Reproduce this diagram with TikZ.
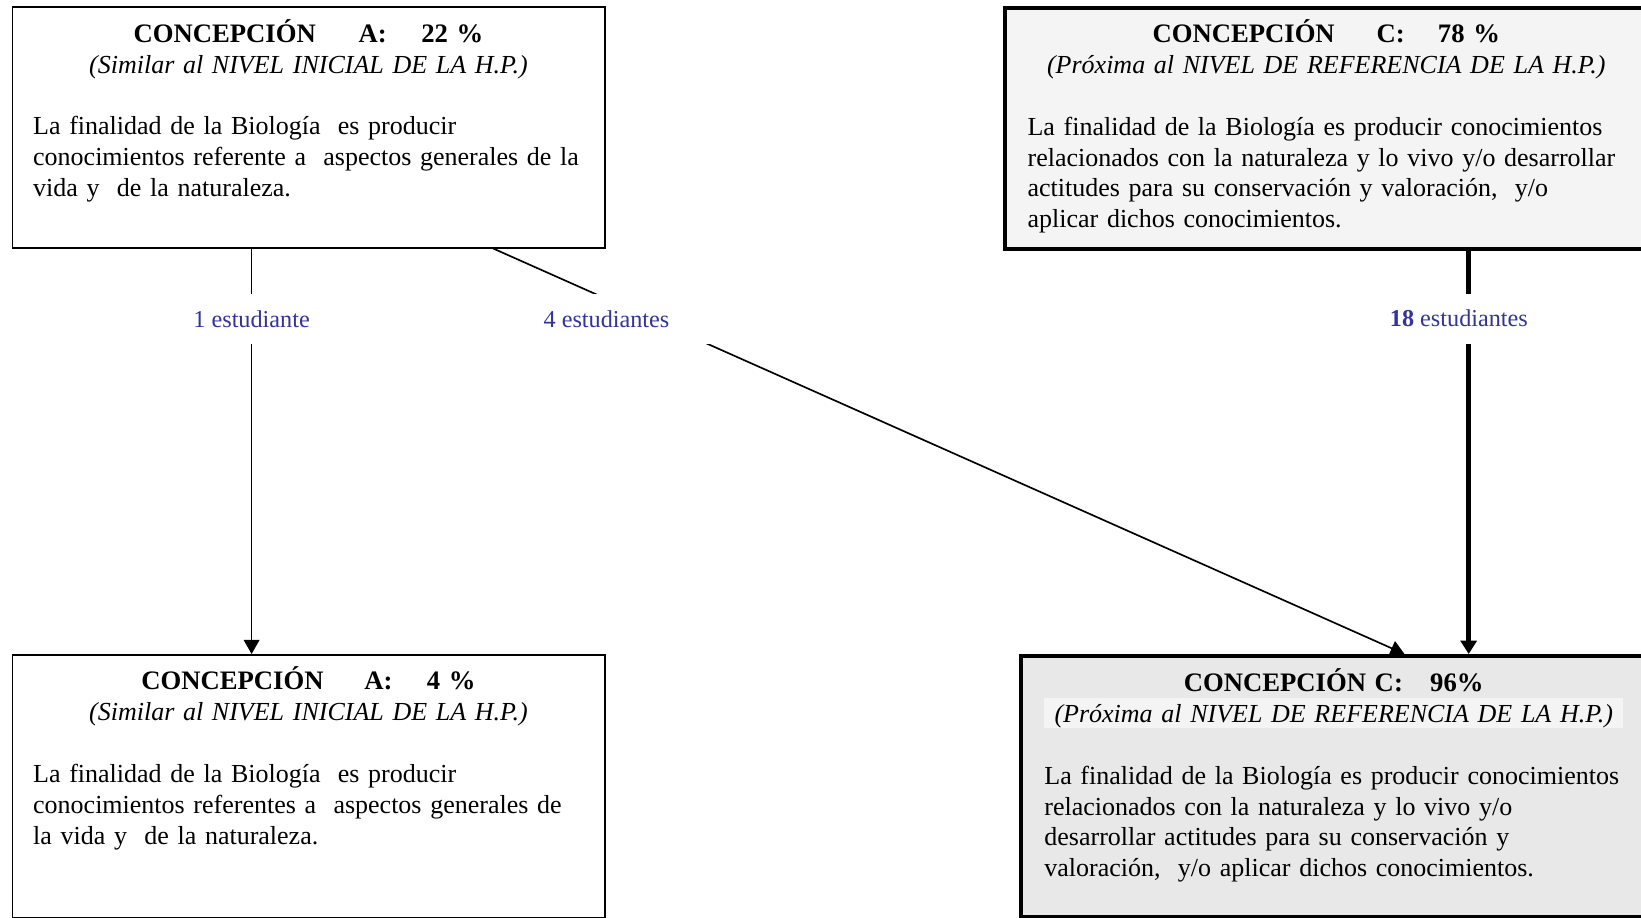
\documentclass[tikz,border=0pt]{standalone}
\usepackage{fontspec}
\setmainfont{Liberation Serif}
\usepackage{xcolor}
\usepackage{tikz}
\usetikzlibrary{arrows.meta,positioning,calc}

\definecolor{labelblue}{RGB}{51,51,153}
\definecolor{lightC}{RGB}{244,244,244}
\definecolor{darkC}{RGB}{232,232,232}
\definecolor{stripC}{RGB}{244,244,244}

\begin{document}
\begin{tikzpicture}[
  x=0.45pt, y=-0.45pt,
  box/.style={draw,rectangle,anchor=north west,align=left,inner ysep=0pt,
    font=\fontsize{11.7}{13.9}\selectfont},
  boxA/.style={box,line width=0.7pt,inner xsep=9.4pt,text width=247.8pt},
  boxC/.style={box,line width=1.8pt,inner xsep=10.35pt},
  lbl/.style={fill=white,text=labelblue,inner xsep=2pt,minimum height=22.5pt,
    font=\fontsize{10.9}{12}\selectfont},
  edge/.style={-{Triangle[length=6.3pt,width=7pt]},line width=0.75pt},
  thick edge/.style={-{Triangle[length=6pt,width=7.2pt]},line width=2.4pt}
]
\useasboundingbox (0,0) rectangle (1641,918);

% initial conceptions
\node[boxA,text height=15.8pt,text depth=92.5pt] (a1) at (11.5,6.3) {%
  {\centering\fontsize{12}{13.9}\selectfont
   \textbf{CONCEPCIÓN\hspace{19.3pt}A:\hspace{15.5pt}22 \%}\\
   \fontsize{11.7}{13.9}\selectfont\textit{(Similar al NIVEL INICIAL DE LA H.P.)}\par}
  \vspace{13.9pt}
  \noindent La finalidad de la Biología\ \ es producir\\
  conocimientos referente a\ \ aspectos generales de la\\
  vida y\ \ de la naturaleza.};
\node[boxC,fill=lightC,text width=268.8pt,text height=15.4pt,text depth=92.9pt] (c1) at (1002.6,6.3) {%
  {\centering\fontsize{12}{13.9}\selectfont
   \textbf{CONCEPCIÓN\hspace{18.8pt}C:\hspace{15pt}78 \%}\\
   \fontsize{11.7}{13.9}\selectfont\textit{(Próxima al NIVEL DE REFERENCIA DE LA H.P.)}\par}
  \vspace{13.9pt}
  \noindent La finalidad de la Biología es producir conocimientos\\
  relacionados con la naturaleza y lo vivo y/o desarrollar\\
  actitudes para su conservación y valoración,\ \ y/o\\
  aplicar dichos conocimientos.};

% final conceptions
\node[boxA,text height=15.8pt,text depth=102.4pt] (a2) at (11.5,654) {%
  {\centering\fontsize{12}{13.9}\selectfont
   \textbf{CONCEPCIÓN\hspace{18.4pt}A:\hspace{15.5pt}4 \%}\\
   \fontsize{11.7}{13.9}\selectfont\textit{(Similar al NIVEL INICIAL DE LA H.P.)}\par}
  \vspace{13.9pt}
  \noindent La finalidad de la Biología\ \ es producir\\
  conocimientos referentes a\ \ aspectos generales de\\
  la vida y\ \ de la naturaleza.};
\node[boxC,fill=darkC,text width=260.4pt,text height=16pt,text depth=101.6pt] (c2) at (1019.4,654) {%
  \setlength{\fboxsep}{0pt}%
  {\centering\fontsize{12}{13.9}\selectfont
   \textbf{CONCEPCIÓN C:\hspace{12.3pt}96\%}\\
   \fontsize{11.7}{13.9}\selectfont
   \colorbox{stripC}{\parbox[b]{\linewidth}{\centering\rule[-2.7pt]{0pt}{13.5pt}\textit{(Próxima al NIVEL DE REFERENCIA DE LA H.P.)}}}\par}
  \vspace{13.9pt}
  \noindent La finalidad de la Biología es producir conocimientos\\
  relacionados con la naturaleza y lo vivo y/o\\
  desarrollar actitudes para su conservación y\\
  valoración,\ \ y/o aplicar dichos conocimientos.};

% start points of the connectors
\coordinate (s1) at ($(a1.south west)!0.4042!(a1.south east)$);
\coordinate (s4) at ($(a1.south west)!0.811!(a1.south east)$);
\coordinate (e4) at ($(c2.north west)!0.6126!(c2.north east)$);
\coordinate (s18) at ($(c1.south west)!0.72!(c1.south east)$);

\draw[edge] (s1) -- node[lbl,pos=0.1745] (l1) {1 estudiante} (a2.north -| s1);
\draw[edge] (s4) -- node[lbl,pos=0.1745,xshift=-20.6pt,minimum width=108pt] (l4) {4 estudiantes} (e4);
\draw[thick edge] (s18) -- node[lbl,pos=0.168,xshift=-4.4pt] (l18) {\textbf{18} estudiantes} (c2.north -| s18);
\end{tikzpicture}
\end{document}
